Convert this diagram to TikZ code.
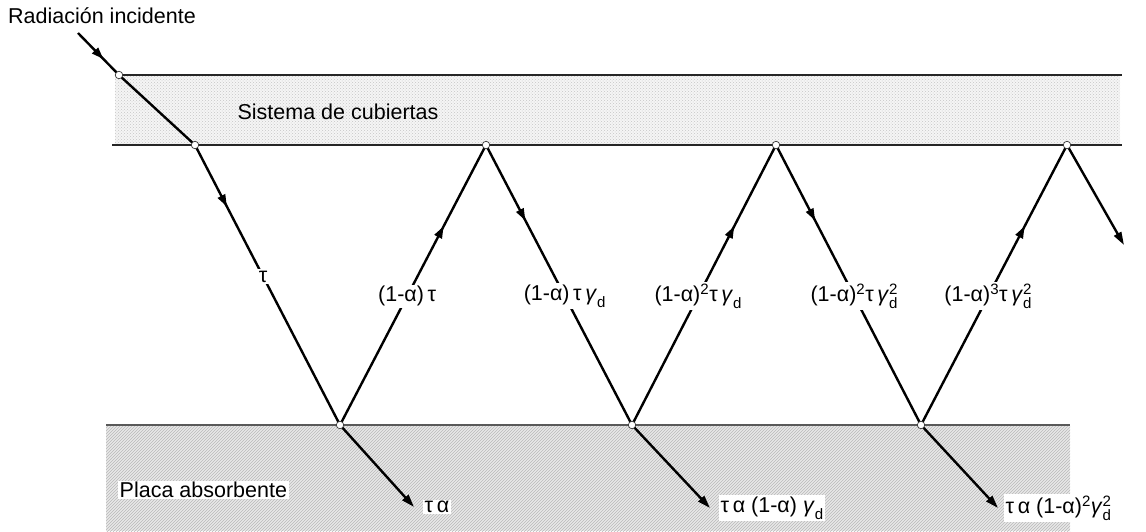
\documentclass[tikz,border=0pt]{standalone}
\usepackage{amsmath}
\usepackage{fontspec}
\setmainfont{Liberation Sans}
\usetikzlibrary{arrows.meta,patterns,decorations.markings}

\newcommand{\gd}[1][]{\textit{γ}$_{\textrm{d}}^{\textrm{#1}}$}

\begin{document}
\begin{tikzpicture}[x=1pt, y=-1pt,
    font=\fontsize{21.5}{25}\selectfont,
    ray/.style={line width=2.4pt, black},
    midarrow/.style={postaction={decorate}, decoration={markings, mark=at position #1 with {\arrow{Triangle[length=12pt,width=8pt]}}}},
    tip/.style={-{Triangle[length=13pt,width=8pt]}},
    hit/.style={circle, draw=black!80, fill=white, line width=0.7pt, inner sep=0pt, minimum size=7.5pt},
    lbl/.style={fill=white, inner sep=1.5pt},
    rim/.style={line width=2.4pt, black!85}
]
\useasboundingbox (0,0) rectangle (1146,531);

% cover system and absorber plate
\fill[gray!8] (115,75) rectangle (1120,145);
\fill[pattern=crosshatch dots, pattern color=gray!45] (115,75) rectangle (1120,145);
\fill[gray!18] (106,425) rectangle (1070,531);
\fill[pattern=north east lines, pattern color=gray!55] (106,425) rectangle (1070,531);
\draw[rim] (118,75) -- (1122,75);
\draw[rim] (112,145) -- (1122,145);
\draw[rim, black!65] (106,425) -- (1070,425);

\coordinate (src) at (78,33);
\coordinate (c0) at (119,75);
\coordinate (c1) at (195,145);
\coordinate (a1) at (340,425);
\coordinate (c2) at (486,145);
\coordinate (a2) at (632,425);
\coordinate (c3) at (776,145);
\coordinate (a3) at (921,425);
\coordinate (c4) at (1067,145);
\coordinate (exit) at (1124,245);
\coordinate (e1) at (414,507);
\coordinate (e2) at (710,508);
\coordinate (e3) at (998,508);

\node[anchor=west, inner sep=0pt] (incident) at (8,16) {Radiación incidente};
\node (cover) at (338,112) {Sistema de cubiertas};
\node[lbl, anchor=west] (plate) at (118,490) {Placa absorbente};

\draw[ray, midarrow=0.62] (src) -- (c0);
\draw[ray] (c0) -- (c1);
\draw[ray, midarrow=0.22] (c1) -- node[lbl, pos=0.47] {τ} (a1);
\draw[ray, midarrow=0.71] (a1) -- node[lbl, pos=0.46] {(1-α)\,τ} (c2);
\draw[ray, midarrow=0.27] (c2) -- node[lbl, pos=0.54] {(1-α)\,τ\,\gd} (a2);
\draw[ray, midarrow=0.71] (a2) -- node[lbl, pos=0.46] {(1-α)$^{\textrm{2}}$τ\,\gd} (c3);
\draw[ray, midarrow=0.27] (c3) -- node[lbl, pos=0.54] {(1-α)$^{\textrm{2}}$τ\,\gd[2]} (a3);
\draw[ray, midarrow=0.71] (a3) -- node[lbl, pos=0.46] {(1-α)$^{\textrm{3}}$τ\,\gd[2]} (c4);
\draw[ray, tip] (c4) -- (exit);

% absorbed part
\node[lbl, anchor=west] (abs1) at ([xshift=9pt]e1) {τ\,α};
\node[lbl, anchor=west] (abs2) at ([xshift=9pt]e2) {τ\,α (1-α) \gd};
\node[lbl, anchor=west] (abs3) at ([xshift=6pt]e3) {τ\,α (1-α)$^{\textrm{2}}$\gd[2]};
\draw[ray, tip] (a1) -- (e1);
\draw[ray, tip] (a2) -- (e2);
\draw[ray, tip] (a3) -- (e3);

\foreach \p in {c0,c1,a1,c2,a2,c3,a3,c4}
    \node[hit] at (\p) {};
\end{tikzpicture}
\end{document}
